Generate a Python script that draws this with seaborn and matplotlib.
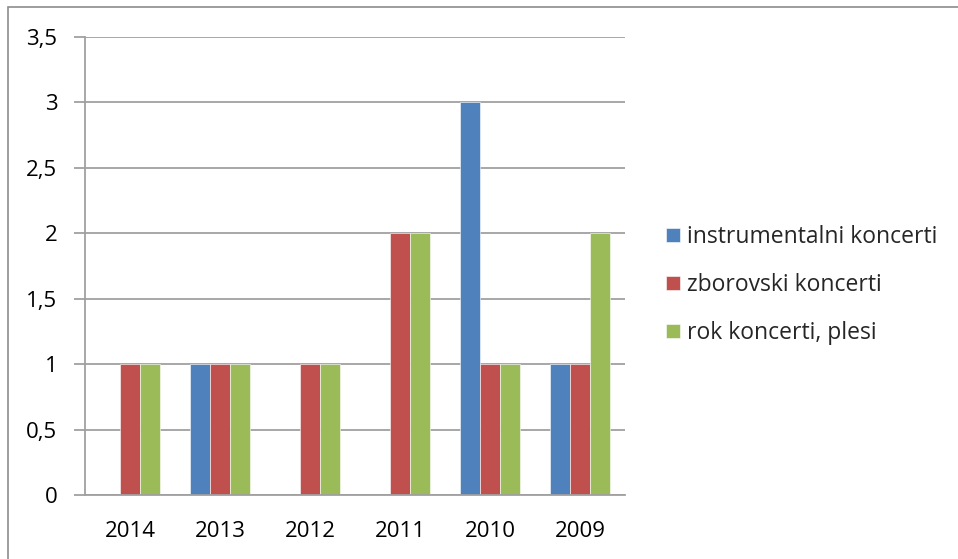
import matplotlib
matplotlib.use("Agg")
import matplotlib.pyplot as plt
import seaborn as sns
import pandas as pd
from matplotlib.patches import Rectangle
from matplotlib.ticker import FuncFormatter

years = ["2014", "2013", "2012", "2011", "2010", "2009"]
instrumentalni = [0, 1, 0, 0, 3, 1]
zborovski = [1, 1, 1, 2, 1, 1]
rok = [1, 1, 1, 2, 1, 2]
series_names = ["instrumentalni koncerti", "zborovski koncerti", "rok koncerti, plesi"]
colors = ["#4F81BD", "#C0504D", "#9BBB59"]

rows = []
for name, vals in zip(series_names, [instrumentalni, zborovski, rok]):
    for y, v in zip(years, vals):
        rows.append({"leto": y, "vrsta": name, "stevilo": v})
df = pd.DataFrame(rows)

sns.set_theme(style="white")
plt.rcParams["font.family"] = ["Open Sans", "DejaVu Sans"]
fs = 16

fig = plt.figure(figsize=(9.58, 5.59), dpi=100)
ax = fig.add_axes([85 / 958, 1 - 495 / 559, 540 / 958, 458 / 559])

sns.barplot(data=df, x="leto", y="stevilo", hue="vrsta", palette=colors, saturation=1,
            width=2 / 3, gap=0, edgecolor="white", linewidth=0.4, ax=ax)

gray = "#a0a0a0"
ax.set_ylim(0, 3.5)
ax.set_xlim(-0.5, 5.5)
ax.set_yticks([0, 0.5, 1, 1.5, 2, 2.5, 3, 3.5])
ax.yaxis.set_major_formatter(FuncFormatter(lambda v, p: f"{v:g}".replace(".", ",")))
ax.grid(axis="y", color=gray, linewidth=1.3)
ax.set_axisbelow(True)
ax.set_xlabel("")
ax.set_ylabel("")
for s in ["top", "right"]:
    ax.spines[s].set_visible(False)
for s in ["left", "bottom"]:
    ax.spines[s].set_color(gray)
    ax.spines[s].set_linewidth(1.3)

ax.set_xticks([i - 0.5 for i in range(7)], minor=True)
ax.tick_params(axis="x", which="major", length=0, labelsize=fs, pad=19, colors="black")
ax.tick_params(axis="x", which="minor", length=8, width=1.3, color=gray, direction="out")
ax.tick_params(axis="y", length=8, width=1.3, color=gray, labelsize=fs, pad=12,
               left=True, direction="out", labelcolor="black")

handles, labels = ax.get_legend_handles_labels()
ax.legend(handles, labels, loc="center left", bbox_to_anchor=(666 / 958, 1 - 285 / 559),
          bbox_transform=fig.transFigure, frameon=False, fontsize=16.5,
          borderpad=0, borderaxespad=0,
          handlelength=0.6, handleheight=0.6, handletextpad=0.3, labelspacing=1.05)

fig.add_artist(Rectangle((8 / 958, -0.1), 1.2, 1 - 7 / 559 + 0.1,
                         transform=fig.transFigure, fill=False,
                         edgecolor="#8c8c8c", linewidth=1.2))

fig.savefig("out.png", dpi=100)
